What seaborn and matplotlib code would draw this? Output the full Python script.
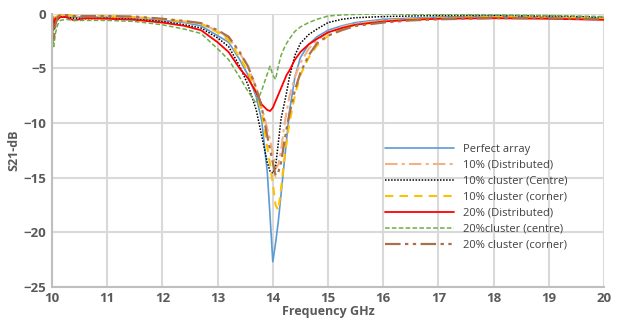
import pandas as pd
import numpy as np
import matplotlib
matplotlib.use("Agg")
import matplotlib.pyplot as plt
import seaborn as sns

# frequency points (GHz)
freq = [10.0, 10.03, 10.06, 10.1, 10.15, 10.25, 10.4, 10.6, 11.0, 11.5,
        12.0, 12.4, 12.7, 13.0, 13.2, 13.4, 13.55, 13.7, 13.8, 13.9,
        13.95, 14.0, 14.05, 14.1, 14.15, 14.2, 14.25, 14.3, 14.4, 14.5,
        14.65, 14.8, 15.0, 15.25, 15.5, 16.0, 16.5, 17.0, 18.0, 19.0, 20.0]

# S21 in dB for each case
perfect = [-0.1, -0.8, -0.3, -0.6, -0.1, -0.2, -0.3, -0.3, -0.3, -0.4,
           -0.6, -0.8, -1.1, -2.0, -2.6, -4.2, -5.6, -7.6, -9.8, -14.5,
           -18.5, -22.7, -21.0, -19.0, -16.5, -14.0, -11.5, -9.0, -5.8, -4.0,
           -2.8, -2.1, -1.5, -1.1, -0.8, -0.5, -0.4, -0.3, -0.2, -0.3, -0.4]
dist10 = [-0.2, -1.2, -0.5, -0.3, -0.2, -0.1, -0.2, -0.3, -0.25, -0.3,
          -0.5, -0.7, -0.9, -1.6, -2.2, -3.6, -4.8, -6.8, -8.6, -10.5,
          -11.5, -12.8, -14.2, -13.8, -12.5, -10.5, -9.0, -7.6, -5.8, -4.5,
          -3.2, -2.4, -1.7, -1.2, -0.9, -0.6, -0.5, -0.4, -0.3, -0.35, -0.45]
centre10 = [-0.2, -1.5, -0.6, -0.4, -0.3, -0.3, -0.4, -0.45, -0.4, -0.5,
            -0.7, -1.0, -1.3, -2.2, -3.0, -4.8, -6.5, -8.8, -11.2, -13.6,
            -14.4, -14.6, -14.0, -11.8, -9.6, -8.4, -7.2, -5.8, -3.8, -2.7,
            -1.9, -1.4, -0.8, -0.5, -0.35, -0.25, -0.2, -0.15, -0.15, -0.2, -0.3]
corner10 = [-0.1, -0.9, -0.3, -0.2, -0.1, -0.1, -0.2, -0.2, -0.2, -0.3,
            -0.5, -0.7, -0.9, -1.7, -2.4, -4.0, -5.3, -7.2, -9.0, -12.2,
            -13.8, -15.5, -17.5, -18.0, -16.0, -13.6, -11.8, -10.0, -7.5, -5.6,
            -4.0, -2.9, -2.0, -1.4, -1.0, -0.7, -0.5, -0.4, -0.3, -0.35, -0.45]
dist20 = [-0.2, -1.0, -0.4, -0.5, -0.3, -0.3, -0.6, -0.4, -0.45, -0.55,
          -0.8, -1.1, -1.5, -2.6, -3.5, -5.0, -5.9, -7.2, -8.3, -8.8,
          -8.9, -8.6, -8.0, -7.4, -6.8, -6.2, -5.6, -5.2, -4.2, -3.5,
          -2.8, -2.3, -1.7, -1.3, -1.0, -0.7, -0.55, -0.45, -0.4, -0.45, -0.55]
centre20 = [-0.4, -3.0, -1.8, -1.0, -0.6, -0.5, -0.6, -0.6, -0.6, -0.7,
            -1.0, -1.4, -1.8, -3.2, -4.2, -5.8, -7.1, -8.2, -7.0, -5.5,
            -4.8, -5.6, -6.0, -4.8, -3.8, -3.2, -2.7, -2.3, -1.6, -1.2,
            -0.8, -0.5, -0.2, -0.1, -0.05, 0.0, -0.05, -0.05, -0.1, -0.15, -0.25]
corner20 = [-0.2, -2.4, -1.0, -0.3, -0.1, -0.1, -0.2, -0.2, -0.2, -0.25,
            -0.45, -0.65, -0.85, -1.5, -2.1, -3.5, -4.8, -6.8, -8.6, -11.2,
            -12.4, -13.6, -14.8, -14.5, -13.6, -12.0, -10.5, -9.2, -7.0, -5.4,
            -3.8, -2.7, -2.0, -1.5, -1.1, -0.8, -0.6, -0.5, -0.4, -0.4, -0.5]

labels = ["Perfect array", "10% (Distributed)", "10% cluster (Centre)",
          "10% cluster (corner)", "20% (Distributed)", "20%cluster (centre)",
          "20% cluster (corner)"]
series = [perfect, dist10, centre10, corner10, dist20, centre20, corner20]

df = pd.DataFrame({"freq": freq * len(labels),
                   "s21": sum(series, []),
                   "case": np.repeat(labels, len(freq))})

# line look per case (colour, dash pattern, width)
styles = {
    "Perfect array": ("#5B9BD5", "-", 1.2),
    "10% (Distributed)": ("#F4B183", (0, (6, 2, 1.5, 2)), 1.5),
    "10% cluster (Centre)": ("#000000", (0, (1, 1)), 1.1),
    "10% cluster (corner)": ("#FFC000", (0, (4, 3)), 1.5),
    "20% (Distributed)": ("#FF0000", "-", 1.3),
    "20%cluster (centre)": ("#70AD47", (0, (3, 1.5)), 1.1),
    "20% cluster (corner)": ("#A9704A", (0, (7, 2, 1.5, 2, 1.5, 2)), 1.6),
}

sns.set_style("whitegrid", {"grid.color": "#D9D9D9", "axes.edgecolor": "#BFBFBF"})
plt.rcParams["font.family"] = ["Open Sans", "DejaVu Sans"]

fig = plt.figure(figsize=(6.2, 3.22), dpi=100)
ax = fig.add_axes([0.084, 0.109, 0.890, 0.848])

for case in labels:
    color, ls, lw = styles[case]
    sns.lineplot(data=df[df["case"] == case], x="freq", y="s21", ax=ax,
                 color=color, linestyle=ls, linewidth=lw, label=case)

ax.set_xlim(10, 20)
ax.set_ylim(-25, 0)
ax.set_xticks(range(10, 21))
ax.set_yticks(range(-25, 1, 5))
ax.grid(True, color="#D9D9D9", linewidth=1.5)
for side in ["top", "right"]:
    ax.spines[side].set_visible(False)
for side in ["left", "bottom"]:
    ax.spines[side].set_color("#BFBFBF")
    ax.spines[side].set_linewidth(1.5)
ax.tick_params(axis="both", length=0, labelsize=9.5, colors="#595959", pad=4)
for lab in ax.get_xticklabels() + ax.get_yticklabels():
    lab.set_fontweight("bold")

ax.set_xlabel("Frequency GHz", fontsize=9, fontweight="bold", color="#595959", labelpad=0)
ax.set_ylabel("S21-dB", fontsize=9, fontweight="bold", color="#595959", labelpad=2)

leg = ax.legend(loc="upper left", bbox_to_anchor=(0.595, 0.54), frameon=False,
                fontsize=8, handlelength=6.2, labelspacing=0.45, handletextpad=0.8,
                borderaxespad=0)
for t in leg.get_texts():
    t.set_color("#404040")

fig.savefig("out.png", dpi=100)
